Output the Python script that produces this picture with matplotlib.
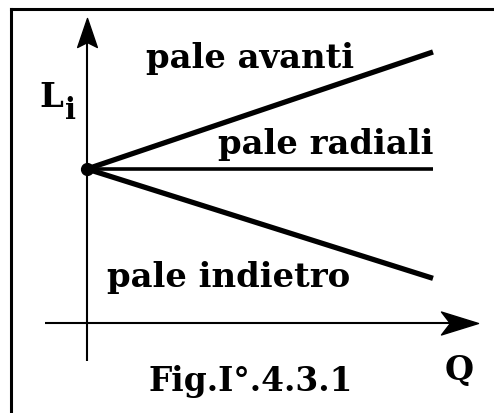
import matplotlib
matplotlib.use("Agg")
import matplotlib.pyplot as plt
from matplotlib.path import Path
from matplotlib.markers import MarkerStyle
from matplotlib.transforms import Affine2D

# ---- data (schematic: specific work L_i vs flow rate Q) ----
q = [0.0, 1.0]
L_avanti = [1.0, 1.76]
L_radiali = [1.0, 1.0]
L_indietro = [1.0, 0.29]
labels = ["pale avanti", "pale radiali", "pale indietro"]
x_label = "Q"
y_label = "L"
y_sub = "i"
caption = "Fig.I°.4.3.1"

W, H, DPI = 494, 414, 100
fig = plt.figure(figsize=(W / DPI, H / DPI), dpi=DPI)
ax = fig.add_axes([0, 0, 1, 1])
# pixel mapping: Q=0 at x=87, Q=1 at x=433; L=0 at y=324 (from top), L=1 at y=170
sx, sy = 346.0, 154.0
x0, y0 = 87.0, H - 324.0
ax.set_xlim(-x0 / sx, (W - x0) / sx)
ax.set_ylim(-y0 / sy, (H - y0) / sy)
ax.axis("off")

font = dict(family="DejaVu Serif", weight="bold", color="black")

# frame (top and left borders)
fig.add_artist(plt.Line2D([10.5 / W, 1.0], [1 - 9.5 / H, 1 - 9.5 / H], color="black", lw=2.2))
fig.add_artist(plt.Line2D([10.5 / W, 10.5 / W], [0, 1 - 9.5 / H], color="black", lw=2.2))

# axes lines
ax.plot([-0.121, 1.10], [0, 0], color="black", lw=1.5, solid_capstyle="butt")
ax.plot([0, 0], [-0.247, 1.94], color="black", lw=1.5, solid_capstyle="butt")

# arrowheads (stealth shape, tip at origin pointing +x)
verts = [(0, 0), (-1.0, 0.31), (-0.76, 0.0), (-1.0, -0.31), (0, 0)]
codes = [Path.MOVETO, Path.LINETO, Path.LINETO, Path.LINETO, Path.CLOSEPOLY]
head = Path(verts, codes)
mx = MarkerStyle(head)
ax.plot([1.130], [0], marker=mx, markersize=2 * 37 * 0.72, color="black", lw=0)
verts_y = [(0, 0), (-1.0, 0.34), (-0.83, 0.0), (-1.0, -0.34), (0, 0)]
my = MarkerStyle(Path(verts_y, codes), transform=Affine2D().rotate_deg(90))
ax.plot([0], [(H - y0 - 18.5) / sy], marker=my, markersize=2 * 29 * 0.72, color="black", lw=0)

# curves
ax.plot(q, L_avanti, color="black", lw=3.8, solid_capstyle="butt")
ax.plot(q, L_radiali, color="black", lw=2.6, solid_capstyle="butt")
ax.plot(q, L_indietro, color="black", lw=3.8, solid_capstyle="butt")
ax.plot([q[0]], [L_radiali[0]], "o", color="black", markersize=8.5)

def px(x, y):
    return (x - x0) / sx, (H - y - y0) / sy

fs = 24.4
ax.text(*px(146, 68), labels[0], fontsize=fs, ha="left", va="baseline", **font)
ax.text(*px(433, 154), labels[1], fontsize=fs, ha="right", va="baseline", **font)
ax.text(*px(107, 287), labels[2], fontsize=fs, ha="left", va="baseline", **font)
ax.text(*px(39, 107), y_label, fontsize=fs, ha="left", va="baseline", **font)
ax.text(*px(65, 119), y_sub, fontsize=fs * 0.85, ha="left", va="baseline", **font)
ax.text(*px(445, 380), x_label, fontsize=24, ha="left", va="baseline", **font)
ax.text(*px(148, 391), caption, fontsize=23.6, ha="left", va="baseline", **font)

fig.savefig("out.png", dpi=DPI)
